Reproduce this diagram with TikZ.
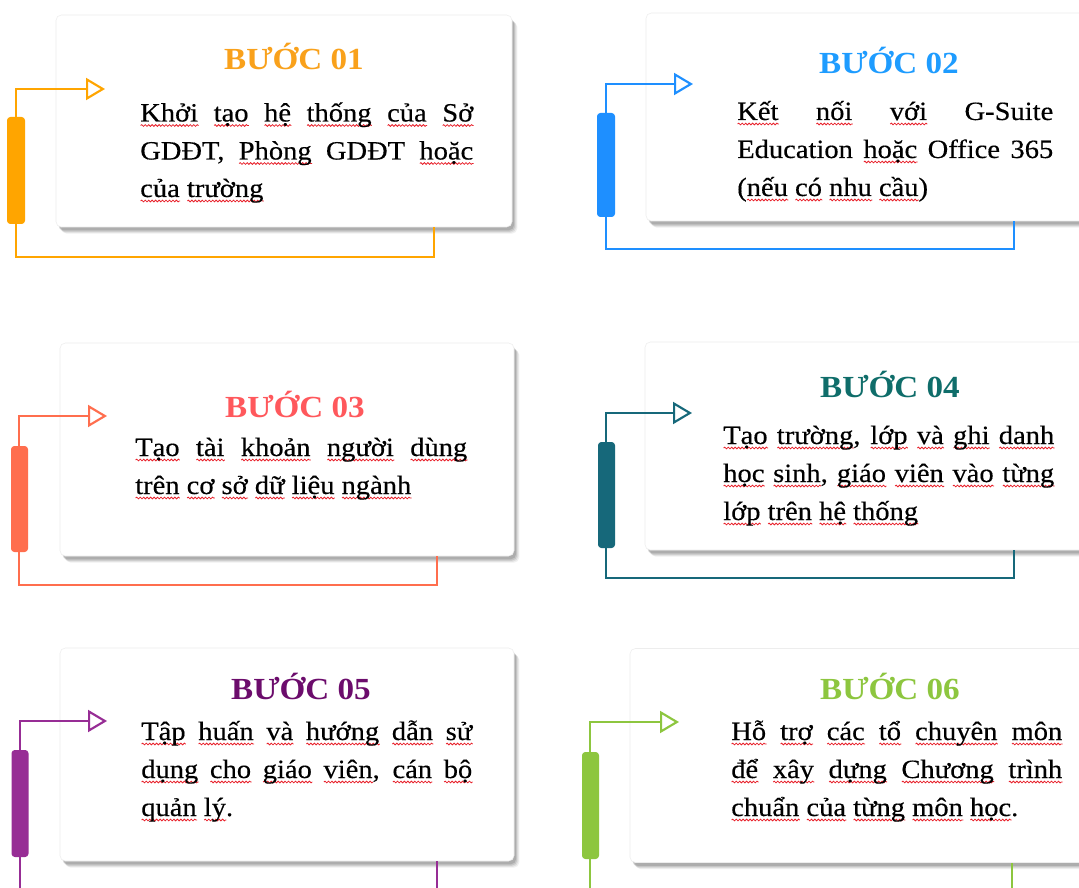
\documentclass[tikz,border=0pt]{standalone}
\usepackage{fontspec}
\setmainfont{Liberation Serif}[FakeStretch=1.08]
\newfontfamily\bodyfont{Liberation Serif}[FakeStretch=1.08,FakeBold=0.35]
\usetikzlibrary{arrows.meta,shadows,decorations.pathmorphing}
\definecolor{wavered}{HTML}{E8202A}
\definecolor{o1}{HTML}{FFA500}\definecolor{t1}{HTML}{F9A11B}
\definecolor{o2}{HTML}{1E8FFF}\definecolor{t2}{HTML}{1E9CFF}
\definecolor{o3}{HTML}{FF6E4E}\definecolor{t3}{HTML}{FF585C}
\definecolor{o4}{HTML}{16687A}\definecolor{t4}{HTML}{0F6D6A}
\definecolor{o5}{HTML}{972D95}\definecolor{t5}{HTML}{6C0C6C}
\definecolor{o6}{HTML}{8DC63F}\definecolor{t6}{HTML}{8DC63F}
\newsavebox\rwbox
\newlength\rwlen
\newcommand\rw[1]{\sbox\rwbox{#1}\setlength\rwlen{\wd\rwbox}\leavevmode\rlap{\tikz[baseline=0pt]\draw[wavered,line width=.6pt,decorate,decoration={snake,amplitude=.65pt,segment length=2.6pt}] (0pt,-3pt) -- (\rwlen,-3pt);}\usebox\rwbox}
\tikzset{
  card/.style={draw=black!7, line width=.4pt, fill=white, rounded corners=4pt, inner sep=0pt,
    general shadow={fill=black, opacity=.06, shadow xshift=4pt, shadow yshift=-5pt},
    general shadow={fill=black, opacity=.08, shadow xshift=3.2pt, shadow yshift=-4.2pt},
    general shadow={fill=black, opacity=.10, shadow xshift=2.4pt, shadow yshift=-3.4pt},
    general shadow={fill=black, opacity=.12, shadow xshift=1.6pt, shadow yshift=-2.5pt}},
  conn/.style={line width=1.6pt, -{Triangle[open,length=14.25pt,width=16.5pt]}},
  bar/.style={rounded corners=2.5pt, inner sep=0pt, minimum width=13pt},
  ttl/.style={anchor=base, inner sep=0pt, font=\bfseries\fontsize{23}{27}\selectfont},
  txt/.style={anchor=base west, inner sep=0pt, font=\bodyfont\fontsize{19.8}{28}\selectfont, text=black}
}
\begin{document}
\begin{tikzpicture}[x=0.75pt, y=-0.75pt]
\clip (0,0) rectangle (1079,888);
\fill[white] (0,0) rectangle (1079,888);

% ---------- cards ----------
\node[card, minimum width=342pt, minimum height=159pt] (c1) at (284,121) {};
\node[card, minimum width=336.75pt, minimum height=156pt] (c2) at (870.5,117) {};
\node[card, minimum width=340.5pt, minimum height=159.75pt] (c3) at (287,449.5) {};
\node[card, minimum width=337.5pt, minimum height=156pt] (c4) at (870,446) {};
\node[card, minimum width=340.5pt, minimum height=159.75pt] (c5) at (287,754.5) {};
\node[card, minimum width=348.75pt, minimum height=160.5pt] (c6) at (862.5,755.5) {};

% ---------- connector points ----------
\coordinate (r1) at (434,257);  \coordinate (l1) at (16,257);  \coordinate (h1) at (105,89);
\coordinate (r2) at (1014,249); \coordinate (l2) at (606,249); \coordinate (h2) at (693,84);
\coordinate (r3) at (437,585);  \coordinate (l3) at (19,585);  \coordinate (h3) at (107,416);
\coordinate (r4) at (1014,578); \coordinate (l4) at (606,578); \coordinate (h4) at (692,413);
\coordinate (r5) at (437,905);  \coordinate (l5) at (20,905);  \coordinate (h5) at (107,721);
\coordinate (r6) at (1012,905); \coordinate (l6) at (590,905); \coordinate (h6) at (679,722);

\draw[conn, draw=o1] (c1.south -| r1) -- (r1) -- (l1) |- (h1);
\draw[conn, draw=o2] (c2.south -| r2) -- (r2) -- (l2) |- (h2);
\draw[conn, draw=o3] (c3.south -| r3) -- (r3) -- (l3) |- (h3);
\draw[conn, draw=o4] (c4.south -| r4) -- (r4) -- (l4) |- (h4);
\draw[conn, draw=o5] (c5.south -| r5) -- (r5) -- (l5) |- (h5);
\draw[conn, draw=o6] (c6.south -| r6) -- (r6) -- (l6) |- (h6);

% ---------- bars ----------
\node[bar, fill=o1, minimum width=13.5pt, minimum height=80.25pt] (b1) at (16,170.5) {};
\node[bar, fill=o2, minimum width=13.5pt, minimum height=78pt] (b2) at (606,165) {};
\node[bar, fill=o3, minimum width=12.75pt, minimum height=79.5pt] (b3) at (19.5,499) {};
\node[bar, fill=o4, minimum width=12.75pt, minimum height=79.5pt] (b4) at (606.5,495) {};
\node[bar, fill=o5, minimum width=12.75pt, minimum height=80.25pt] (b5) at (20,803.5) {};
\node[bar, fill=o6, minimum width=12.75pt, minimum height=80.25pt] (b6) at (590.5,805.5) {};

% ---------- titles ----------
\node[ttl, text=t1] (k1) at (294,70) {BƯỚC 01};
\node[ttl, text=t2] (k2) at (889,74) {BƯỚC 02};
\node[ttl, text=t3] (k3) at (295,417) {BƯỚC 03};
\node[ttl, text=t4] (k4) at (890,397) {BƯỚC 04};
\node[ttl, text=t5] (k5) at (301,699) {BƯỚC 05};
\node[ttl, text=t6] (k6) at (890,699) {BƯỚC 06};

% ---------- texts ----------
\node[txt] (s1a) at (140,121.5) {\makebox[249.75pt][s]{\rw{Khởi} \rw{tạo} \rw{hệ} \rw{thống} \rw{của} \rw{Sở}}};
\node[txt] (s1b) at (140,159.5) {\makebox[249.75pt][s]{GDĐT, \rw{Phòng} GDĐT \rw{hoặc}}};
\node[txt] (s1c) at (140,197) {\rw{của} \rw{trường}};

\node[txt] (s2a) at (737,120) {\makebox[237pt][s]{\rw{Kết} \rw{nối} \rw{với} G-Suite}};
\node[txt] (s2b) at (737,158) {\makebox[237pt][s]{Education \rw{hoặc} Office 365}};
\node[txt] (s2c) at (737,196) {(\rw{nếu} \rw{có} \rw{nhu} \rw{cầu})};

\node[txt] (s3a) at (135,456) {\makebox[249pt][s]{\rw{Tạo} \rw{tài} \rw{khoản} \rw{người} \rw{dùng}}};
\node[txt] (s3b) at (135,494) {\rw{trên} \rw{cơ} \rw{sở} \rw{dữ} \rw{liệu} \rw{ngành}};

\node[txt] (s4a) at (723,444) {\makebox[248.25pt][s]{\rw{Tạo} \rw{trường}, \rw{lớp} \rw{và} \rw{ghi} \rw{danh}}};
\node[txt] (s4b) at (723,482) {\makebox[248.25pt][s]{\rw{học} \rw{sinh}, \rw{giáo} \rw{viên} \rw{vào} \rw{từng}}};
\node[txt] (s4c) at (723,520) {\rw{lớp} \rw{trên} \rw{hệ} \rw{thống}};

\node[txt] (s5a) at (141,740) {\makebox[248.25pt][s]{\rw{Tập} \rw{huấn} \rw{và} \rw{hướng} \rw{dẫn} \rw{sử}}};
\node[txt] (s5b) at (141,778) {\makebox[248.25pt][s]{\rw{dụng} \rw{cho} \rw{giáo} \rw{viên}, \rw{cán} \rw{bộ}}};
\node[txt] (s5c) at (141,816) {\rw{quản} \rw{lý}.};

\node[txt] (s6a) at (731,740) {\makebox[248.25pt][s]{\rw{Hỗ} \rw{trợ} \rw{các} \rw{tổ} \rw{chuyên} \rw{môn}}};
\node[txt] (s6b) at (731,778) {\makebox[248.25pt][s]{\rw{để} \rw{xây} \rw{dựng} \rw{Chương} \rw{trình}}};
\node[txt] (s6c) at (731,816) {\rw{chuẩn} \rw{của} \rw{từng} \rw{môn} \rw{học}.};
\end{tikzpicture}
\end{document}
